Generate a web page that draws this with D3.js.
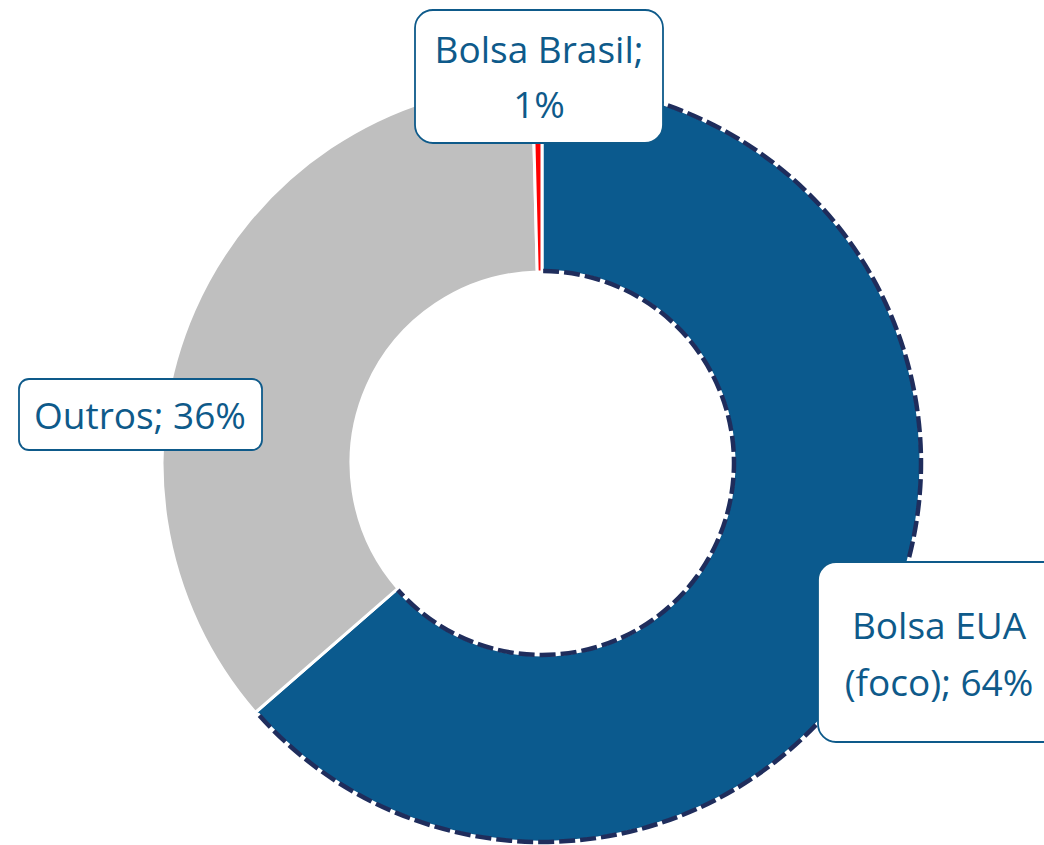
<!DOCTYPE html>
<html>
<head>
<meta charset="utf-8">
<script src="https://cdn.jsdelivr.net/npm/d3@7"></script>
<style>
  body { margin: 0; background: #fff; }
  svg { display: block; }
</style>
</head>
<body>
<script>
var categories = ['Bolsa EUA (foco)', 'Outros', 'Bolsa Brasil'];
var values = [63.6, 36.0, 0.4];
var pctLabels = ['64%', '36%', '1%'];
var labelLines = [['Bolsa EUA', '(foco); 64%'], ['Outros; 36%'], ['Bolsa Brasil;', '1%']];
var colors = ['#0b5a8e', '#bfbfbf', '#ff0000'];

var width = 1044, height = 845;
var cx = 542, cy = 463, rOuter = 380, rInner = 191;

var svg = d3.select('body').append('svg')
    .attr('width', width)
    .attr('height', height);

var g = svg.append('g').attr('transform', 'translate(' + cx + ',' + cy + ')');

var pie = d3.pie().sort(null).value(function(d) { return d; });
var arcs = pie(values);

var arc = d3.arc().innerRadius(rInner).outerRadius(rOuter);

g.selectAll('path.slice')
    .data(arcs)
    .enter()
    .append('path')
    .attr('class', 'slice')
    .attr('d', arc)
    .attr('fill', function(d, i) { return colors[i]; })
    .attr('stroke', '#fff')
    .attr('stroke-width', 3);

// dashed border on the focus slice, only along its curved edges
var eua = arcs[0];
function openArc(r, a0, a1) {
    var p = d3.path();
    // pie angles run clockwise from 12 o'clock
    p.arc(0, 0, r, a0 - Math.PI / 2, a1 - Math.PI / 2, false);
    return p.toString();
}
[rOuter - 1, rInner + 1].forEach(function(r) {
    var d = openArc(r, eua.startAngle + 0.006, eua.endAngle - 0.006);
    g.append('path')
        .attr('d', d)
        .attr('fill', 'none')
        .attr('stroke', '#fff')
        .attr('stroke-width', 3);
    g.append('path')
        .attr('d', d)
        .attr('fill', 'none')
        .attr('stroke', '#1f2d5c')
        .attr('stroke-width', 4.5)
        .attr('stroke-dasharray', '16,5');
});

// label boxes
var boxes = [
    { x: 818, y: 562, w: 250, h: 180, cx: 939, base: [639, 696] },
    { x: 19, y: 379, w: 243, h: 71, cx: 140, base: [429] },
    { x: 415, y: 10, w: 248, h: 133, cx: 539, base: [63, 118] }
];

var lg = svg.selectAll('g.label')
    .data(boxes)
    .enter()
    .append('g')
    .attr('class', 'label');

lg.append('rect')
    .attr('x', function(d) { return d.x; })
    .attr('y', function(d) { return d.y; })
    .attr('width', function(d) { return d.w; })
    .attr('height', function(d) { return d.h; })
    .attr('rx', function(d, i) { return i === 1 ? 10 : 18; })
    .attr('fill', '#fff')
    .attr('stroke', '#0e5a8a')
    .attr('stroke-width', 1.8);

lg.each(function(d, i) {
    var sel = d3.select(this);
    labelLines[i].forEach(function(line, j) {
        sel.append('text')
            .attr('x', d.cx)
            .attr('y', d.base[j])
            .attr('text-anchor', 'middle')
            .attr('fill', '#0e5a8a')
            .style('font', '37px "Open Sans", sans-serif')
            .text(line);
    });
});
</script>
</body>
</html>
